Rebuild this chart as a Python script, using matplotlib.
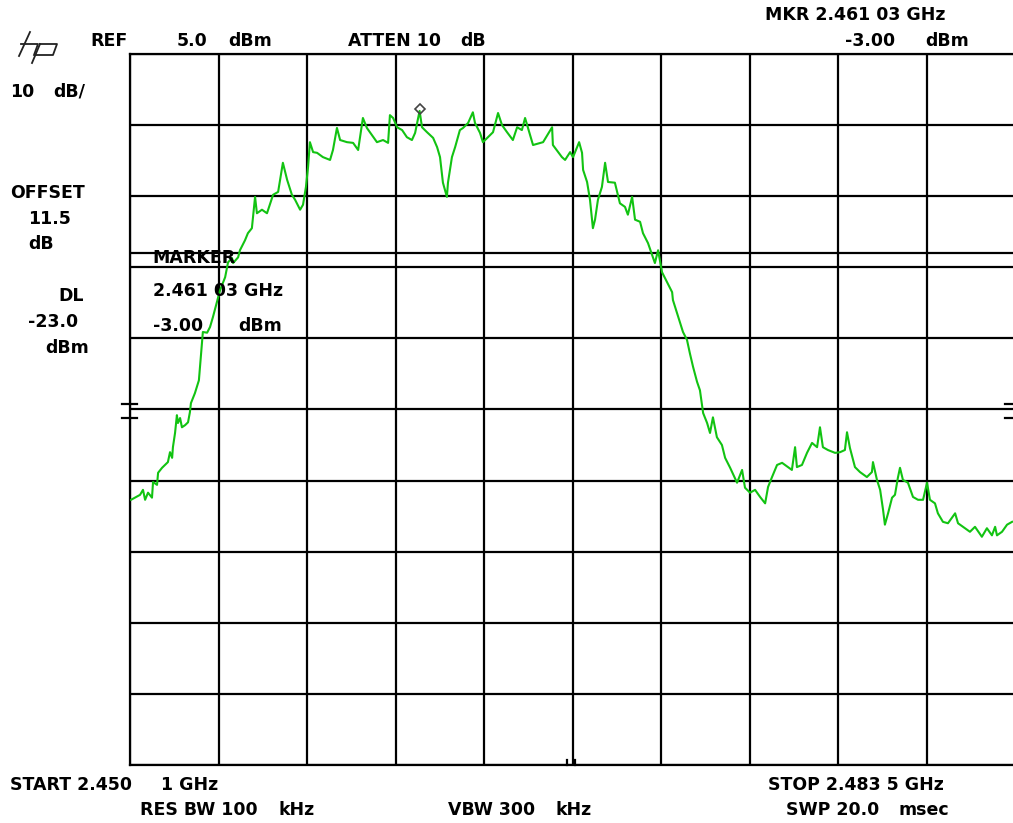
import numpy as np
from matplotlib import pyplot as plt
from matplotlib import transforms
from matplotlib.lines import Line2D

# spectrum analyser screen: start/stop in MHz, ref level and scale in dB
start_mhz = 2450.1
stop_mhz = 2483.5
ref_dbm = 5.0
db_per_div = 10
dl_dbm = -23.0
mkr_mhz = 2461.03
mkr_dbm = -3.00

freq_mhz = [
    2450.14, 2450.48, 2450.59, 2450.67, 2450.78, 2450.93, 2450.97, 2451.12, 2451.16, 2451.31,
    2451.42, 2451.53, 2451.61, 2451.69, 2451.72, 2451.80, 2451.87, 2451.91, 2451.99, 2452.06,
    2452.18, 2452.29, 2452.36, 2452.40, 2452.55, 2452.70, 2452.78, 2452.85, 2453.01, 2453.12,
    2453.23, 2453.38, 2453.50, 2453.69, 2453.80, 2453.95, 2453.99, 2454.18, 2454.25, 2454.44,
    2454.55, 2454.70, 2454.82, 2454.89, 2455.08, 2455.27, 2455.50, 2455.69, 2455.87, 2456.03,
    2456.21, 2456.33, 2456.52, 2456.63, 2456.74, 2456.82, 2456.89, 2457.01, 2457.16, 2457.38,
    2457.65, 2457.76, 2457.91, 2458.03, 2458.29, 2458.52, 2458.71, 2458.89, 2459.04, 2459.23,
    2459.42, 2459.65, 2459.84, 2459.91, 2460.03, 2460.18, 2460.37, 2460.55, 2460.74, 2460.86,
    2461.03, 2461.12, 2461.31, 2461.54, 2461.69, 2461.80, 2461.91, 2462.06, 2462.10, 2462.25,
    2462.37, 2462.55, 2462.67, 2462.86, 2463.04, 2463.12, 2463.31, 2463.42, 2463.61, 2463.80,
    2463.99, 2464.14, 2464.33, 2464.55, 2464.71, 2464.89, 2465.01, 2465.12, 2465.31, 2465.69,
    2466.03, 2466.06, 2466.40, 2466.52, 2466.71, 2466.82, 2467.05, 2467.16, 2467.20, 2467.35,
    2467.46, 2467.57, 2467.65, 2467.76, 2467.91, 2468.03, 2468.14, 2468.40, 2468.59, 2468.78,
    2468.89, 2469.05, 2469.16, 2469.35, 2469.46, 2469.65, 2469.91, 2470.03, 2470.18, 2470.37,
    2470.56, 2470.59, 2470.74, 2470.86, 2470.97, 2471.12, 2471.23, 2471.35, 2471.50, 2471.61,
    2471.73, 2471.88, 2471.99, 2472.10, 2472.25, 2472.44, 2472.56, 2472.75, 2473.01, 2473.20,
    2473.31, 2473.50, 2473.69, 2473.88, 2474.07, 2474.18, 2474.33, 2474.52, 2474.71, 2474.93,
    2475.08, 2475.20, 2475.27, 2475.46, 2475.65, 2475.84, 2476.03, 2476.14, 2476.25, 2476.44,
    2476.71, 2476.90, 2477.08, 2477.16, 2477.27, 2477.46, 2477.65, 2477.91, 2478.10, 2478.14,
    2478.29, 2478.41, 2478.52, 2478.59, 2478.71, 2478.86, 2478.97, 2479.08, 2479.16, 2479.27,
    2479.46, 2479.65, 2479.84, 2480.03, 2480.18, 2480.29, 2480.48, 2480.59, 2480.78, 2480.97,
    2481.24, 2481.35, 2481.54, 2481.80, 2481.99, 2482.25, 2482.44, 2482.63, 2482.75, 2482.82,
    2483.01, 2483.20, 2483.39,
]

level_dbm = [
    -57.7, -57.0, -56.3, -57.7, -56.7, -57.4, -55.2, -55.6, -53.9, -53.2,
    -52.8, -52.4, -51.0, -51.8, -50.3, -48.3, -45.8, -46.9, -46.2, -47.5,
    -47.2, -46.8, -45.4, -44.1, -42.7, -40.9, -37.3, -34.1, -34.2, -33.4,
    -32.0, -29.9, -28.2, -26.4, -24.3, -23.7, -24.4, -23.6, -22.6, -21.2,
    -20.2, -19.5, -15.1, -17.4, -16.9, -17.4, -14.8, -14.4, -10.3, -12.7,
    -14.8, -15.5, -16.9, -16.2, -13.7, -10.9, -7.4, -8.8, -8.9, -9.5,
    -9.9, -8.5, -5.4, -7.1, -7.4, -7.5, -8.5, -4.0, -5.4, -6.4,
    -7.4, -7.1, -7.5, -3.6, -4.0, -5.3, -5.7, -6.7, -7.1, -6.1,
    -3.0, -5.3, -6.0, -6.8, -8.1, -9.5, -13.1, -15.1, -13.1, -9.5,
    -8.1, -5.7, -5.4, -4.7, -3.2, -4.7, -6.1, -7.4, -6.7, -6.0,
    -3.3, -5.0, -6.0, -7.1, -5.3, -5.7, -4.0, -5.4, -7.8, -7.4,
    -5.3, -7.8, -9.5, -9.9, -8.8, -9.5, -7.4, -8.9, -11.3, -13.0,
    -15.5, -19.5, -18.3, -15.5, -13.7, -10.3, -13.0, -13.1, -16.0, -16.5,
    -17.6, -15.1, -18.3, -18.6, -20.2, -21.6, -24.4, -22.6, -25.7, -27.1,
    -28.5, -29.6, -31.4, -32.8, -34.1, -35.2, -37.1, -39.0, -41.1, -42.3,
    -45.5, -46.9, -48.3, -46.1, -48.9, -50.0, -51.8, -53.2, -55.3, -53.5,
    -56.0, -56.7, -56.3, -57.3, -58.2, -55.9, -54.5, -52.8, -52.5, -53.1,
    -53.5, -50.3, -53.1, -52.8, -51.1, -49.7, -50.3, -47.5, -50.3, -50.7,
    -51.1, -51.0, -50.7, -48.2, -50.4, -53.1, -53.8, -54.5, -53.8, -52.4,
    -54.9, -56.3, -59.1, -61.2, -59.6, -57.4, -57.0, -54.6, -53.2, -54.9,
    -55.3, -57.3, -57.7, -57.7, -55.3, -57.7, -58.2, -59.6, -60.8, -61.0,
    -59.6, -61.0, -61.5, -62.2, -61.5, -62.9, -61.7, -62.7, -61.5, -62.7,
    -62.2, -61.2, -60.8,
]

W, H = 1013, 823
fig = plt.figure(figsize=(W / 100, H / 100), dpi=100)
fig.patch.set_facecolor("white")

# grid box runs from x=130 to x=1015 (cut by the image edge), y=54 to 765
ax = fig.add_axes([130 / W, 1 - 765 / H, 885 / W, 711 / H])
ax.set_xlim(start_mhz, stop_mhz)
ax.set_ylim(ref_dbm - 10 * db_per_div, ref_dbm)
ax.set_xticks(np.linspace(start_mhz, stop_mhz, 11))
ax.set_yticks(np.arange(ref_dbm - 10 * db_per_div, ref_dbm + 1, db_per_div))
ax.tick_params(length=0, labelbottom=False, labelleft=False)
ax.grid(True, color="black", linewidth=1.6)
for s in ax.spines.values():
    s.set_linewidth(1.6)
    s.set_color("black")
ax.spines["right"].set_visible(False)

# display line
ax.axhline(dl_dbm, color="black", linewidth=1.6)

# trace
ax.plot(freq_mhz, level_dbm, color="#12c312", linewidth=1.5, zorder=3)

# marker
ax.plot([mkr_mhz], [mkr_dbm + 0.3], marker="D", markersize=5, markerfacecolor="none",
        markeredgecolor="#444444", markeredgewidth=1.2, zorder=4)

# little threshold marks at the edges
blend = transforms.blended_transform_factory(ax.transAxes, ax.transData)
for lv in [-44.2, -46.2]:
    ax.plot([-0.009, 0.008], [lv, lv], color="black", linewidth=1.6, transform=blend, clip_on=False)
    ax.plot([0.989, 0.998], [lv, lv], color="black", linewidth=1.6, transform=blend, clip_on=False)
blend2 = transforms.blended_transform_factory(ax.transData, ax.transAxes)
for fm in [2466.58, 2466.88]:
    ax.plot([fm, fm], [0.0, 0.007], color="black", linewidth=1.6, transform=blend2, clip_on=False)


def label(x, y, s, size=12.5):
    fig.text(x / W, 1 - y / H, s, ha="left", va="center", fontsize=size,
             fontweight="bold", family="DejaVu Sans", color="black")


# hp logo drawn as slanted strokes (pixel coords)
logo = [
    [(30, 32), (19, 56)],
    [(21, 44), (38, 44), (34, 55)],
    [(40, 44), (32, 63)],
    [(40, 44), (57, 44), (53, 55), (36, 55)],
]
for seg in logo:
    xs = [p[0] / W for p in seg]
    ys = [1 - p[1] / H for p in seg]
    fig.add_artist(Line2D(xs, ys, color="#222222", linewidth=1.3))

# header
label(90, 41, "REF")
label(177, 41, "5.0")
label(228, 41, "dBm")
label(348, 41, "ATTEN 10")
label(460, 41, "dB")
label(765, 15, "MKR 2.461 03 GHz")
label(845, 41, "-3.00")
label(925, 41, "dBm")

# left column
label(10, 92, "10")
label(53, 92, "dB/")
label(10, 193, "OFFSET")
label(28, 219, "11.5")
label(28, 244, "dB")
label(58, 296, "DL")
label(28, 322, "-23.0")
label(45, 348, "dBm")

# marker readout inside the grid
label(152, 258, "MARKER")
label(153, 291, "2.461 03 GHz")
label(153, 326, "-3.00")
label(238, 326, "dBm")

# footer
label(10, 785, "START 2.450")
label(161, 785, "1 GHz")
label(768, 785, "STOP 2.483 5 GHz")
label(140, 810, "RES BW 100")
label(279, 810, "kHz")
label(448, 810, "VBW 300")
label(555, 810, "kHz")
label(786, 810, "SWP 20.0")
label(899, 810, "msec")

fig.savefig("out.png", dpi=100, facecolor="white")
